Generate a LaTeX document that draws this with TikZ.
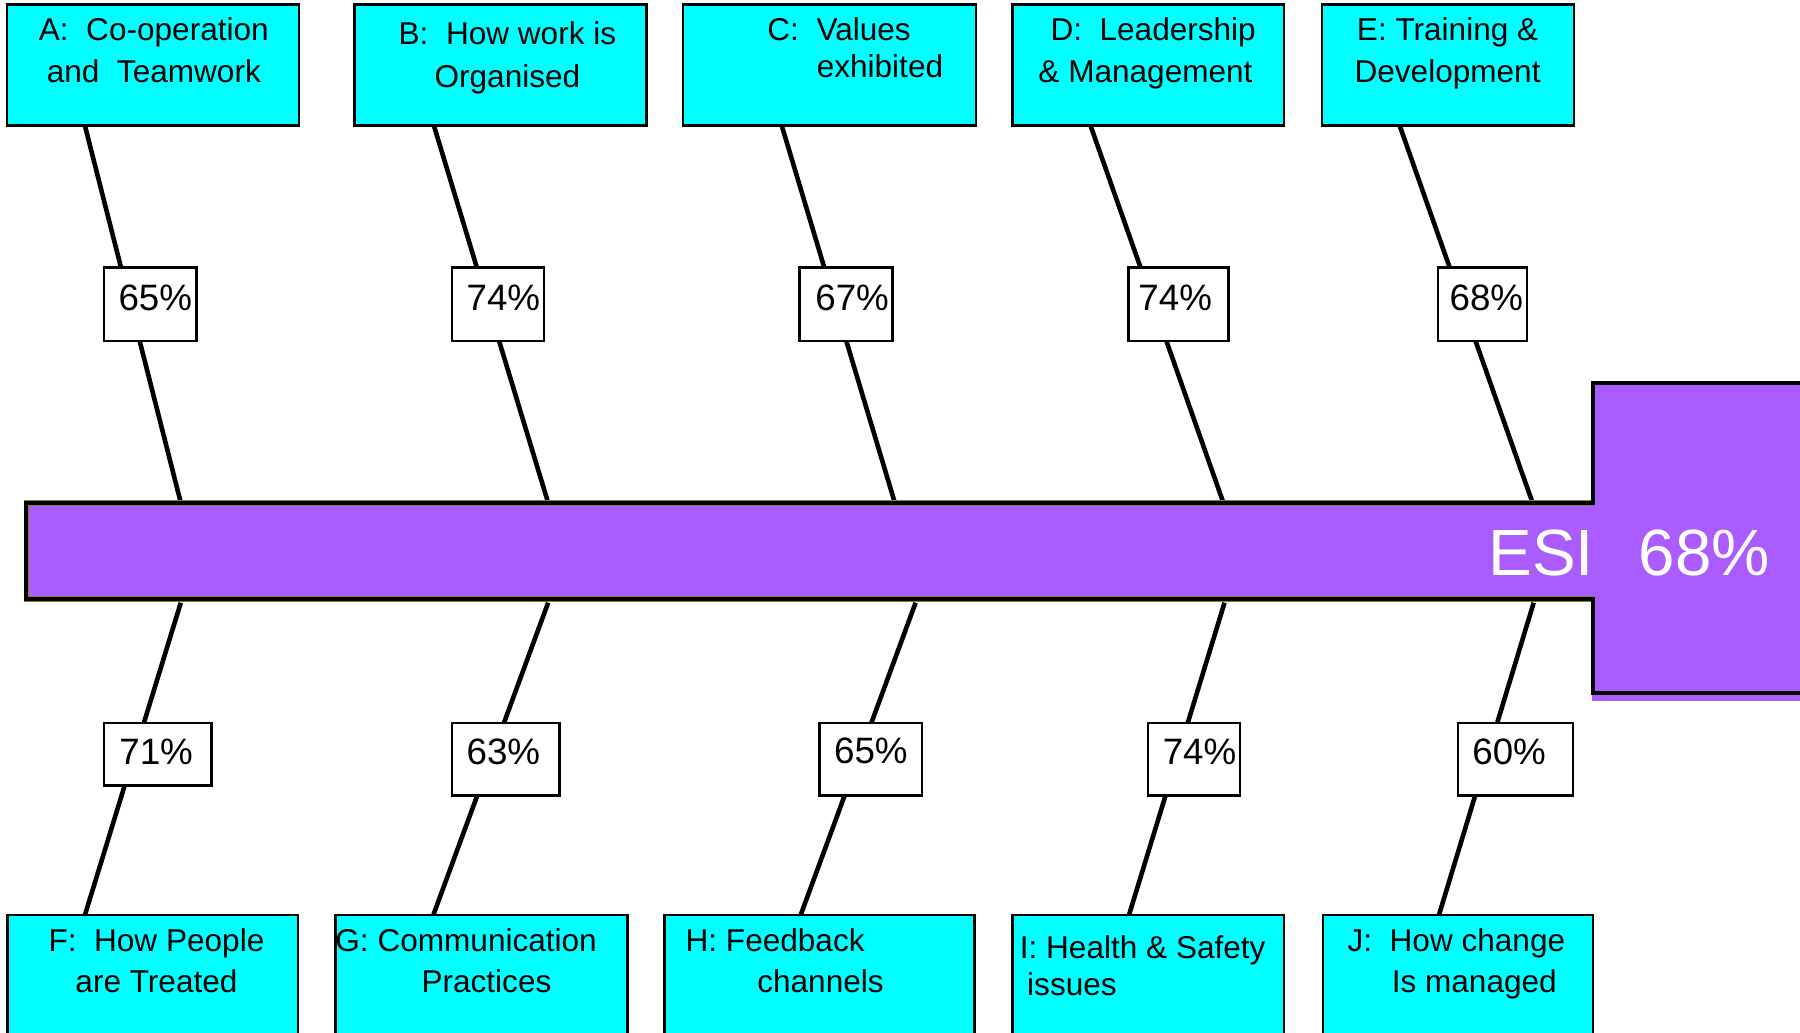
\documentclass[tikz,border=0pt]{standalone}
\usepackage{fontspec}
\setmainfont{Liberation Sans}

\definecolor{causefill}{RGB}{0,255,255}
\definecolor{esi}{RGB}{171,92,255}
\definecolor{fringe}{RGB}{130,130,40}

% strut fixing the top of the first text line
\newcommand\firstln{\rule{0pt}{21pt}}

\tikzset{
  cause/.style={draw=black, fill=causefill, line width=2.2pt, inner sep=0pt, outer sep=0pt, anchor=north west},
  lbl/.style={inner sep=0pt, outer sep=0pt, font=\fontsize{27.5}{36}\selectfont},
  pct/.style={draw=black, fill=white, line width=2.2pt, inner sep=0pt, outer sep=0pt,
              font=\fontsize{32}{36}\selectfont, text height=23pt, text depth=13pt},
  bone/.style={draw=black, line width=4pt},
  outline/.style={draw=black, line width=3.5pt},
  body/.style={fill=esi, inner sep=0pt, outer sep=0pt, anchor=north west},
}

\begin{document}
\begin{tikzpicture}[x=1pt, y=-1pt]
\useasboundingbox (0,0) rectangle (1568,899);
\clip (0,0) rectangle (1568,899);
\fill[white] (0,0) rectangle (1568,899);

% cause boxes, upper row
\node[cause, minimum width=254.5pt, minimum height=105.7pt] (A) at (6,3.8) {};
\node[cause, minimum width=254pt,   minimum height=105.7pt] (B) at (309,3.8) {};
\node[cause, minimum width=255pt,   minimum height=105.7pt] (C) at (595,3.8) {};
\node[cause, minimum width=236.5pt, minimum height=105.7pt] (D) at (882,3.8) {};
\node[cause, minimum width=219.3pt, minimum height=105.7pt] (E) at (1151.7,3.8) {};

% cause boxes, lower row
\node[cause, minimum width=253pt,   minimum height=130pt] (F) at (6.6,797) {};
\node[cause, minimum width=254pt,   minimum height=130pt] (G) at (292.4,797) {};
\node[cause, minimum width=269.7pt, minimum height=130pt] (H) at (579,797) {};
\node[cause, minimum width=236.5pt, minimum height=130pt] (I) at (882,797) {};
\node[cause, minimum width=235.2pt, minimum height=130pt] (J) at (1152.3,797) {};

% box captions
\node[lbl, anchor=north, align=center] (At) at (134,14.5) {\firstln A:~~Co-operation\\and~~Teamwork};
\node[lbl, anchor=north, align=center, font=\fontsize{27.5}{37}\selectfont] (Bt) at (442,18) {\firstln B:~~How work is\\Organised};
\node[lbl, anchor=north west, align=left, font=\fontsize{27.5}{32}\selectfont] (Ct) at (668.5,14.5) {\firstln C:~~Values\\\hspace*{43pt}exhibited};
\node[lbl, anchor=north west, align=left] (Dt) at (904.6,14.5) {\firstln\hspace*{10.5pt}D:~~Leadership\\\&~Management};
\node[lbl, anchor=north, align=center] (Et) at (1261,14.5) {\firstln E:~Training~\&\\Development};
\node[lbl, anchor=north, align=center] (Ft) at (136.3,807.5) {\firstln F:~~How People\\are Treated};
\node[lbl, anchor=north west, align=left] (Gt) at (292.2,807.5) {\firstln G:~Communication\\\hspace*{75pt}Practices};
\node[lbl, anchor=north west, align=left] (Ht) at (597.3,807.5) {\firstln H:~Feedback\\\hspace*{62.4pt}channels};
\node[lbl, anchor=north west, align=left, font=\fontsize{27.5}{32.5}\selectfont] (It) at (888.4,814) {\firstln I:~Health~\&~Safety\\\hspace*{6.4pt}issues};
\node[lbl, anchor=north west, align=left] (Jt) at (1173.9,807.5) {\firstln J:~~How change\\\hspace*{38.5pt}Is managed};

% spine and head
\node[body, minimum width=1365pt, minimum height=83.5pt] (spine) at (23,438) {};
\node[body, minimum width=190pt, minimum height=270pt] (head) at (1388,334) {};
\fill[esi] ([xshift=-1.5pt]head.south west) rectangle ([yshift=-7pt]head.south east);

% bones, upper side
\draw[bone] ([xshift=68pt]A.south west)   -- ([xshift=134.5pt]spine.north west);
\draw[bone] ([xshift=69pt]B.south west)   -- ([xshift=454.5pt]spine.north west);
\draw[bone] ([xshift=86pt]C.south west)   -- ([xshift=756.5pt]spine.north west);
\draw[bone] ([xshift=68pt]D.south west)   -- ([xshift=1042.7pt]spine.north west);
\draw[bone] ([xshift=67.6pt]E.south west) -- ([xshift=1312pt]spine.north west);

% bones, lower side
\draw[bone] ([xshift=134.5pt,yshift=-3.5pt]spine.south west)  -- ([xshift=67.4pt]F.north west);
\draw[bone] ([xshift=454.5pt,yshift=-3.5pt]spine.south west)  -- ([xshift=85.1pt]G.north west);
\draw[bone] ([xshift=774.6pt,yshift=-3.5pt]spine.south west)  -- ([xshift=118.5pt]H.north west);
\draw[bone] ([xshift=1043.7pt,yshift=-3.5pt]spine.south west) -- ([xshift=101.5pt]I.north west);
\draw[bone] ([xshift=1313pt,yshift=-3.5pt]spine.south west)   -- ([xshift=101.2pt]J.north west);

% thin olive edge along the shaft, under the black outline
\draw[fringe, line width=5pt] (spine.north east) -- (spine.north west)
  -- (spine.south west) -- (spine.south east);

% outline of spine and head
\draw[outline] (spine.south west) -- (spine.north west) -- (spine.north east)
  -- (head.north west) -- (head.north east) -- (head.south east)
  -- (head.south west) -- (spine.south east) -- cycle;

% scores on the bones
\node[pct, minimum width=80.4pt, minimum height=63.8pt] (pA) at (130.8,265.1) {\hspace*{9pt}65\%};
\node[pct, minimum width=80.4pt, minimum height=63.8pt] (pB) at (433.8,265.1) {\hspace*{9.4pt}74\%};
\node[pct, minimum width=80.8pt, minimum height=63.8pt] (pC) at (737,265.1) {\hspace*{10.6pt}67\%};
\node[pct, minimum width=86.7pt, minimum height=63.8pt] (pD) at (1026.6,265.1) {74\%\hspace*{5.8pt}};
\node[pct, minimum width=77.4pt, minimum height=63.8pt] (pE) at (1291.3,265.1) {\hspace*{7pt}68\%};

\node[pct, minimum width=93.7pt,  minimum height=54.6pt, text depth=5.2pt] (pF) at (137.5,657.1) {71\%\hspace*{3pt}};
\node[pct, minimum width=93.7pt,  minimum height=63.2pt, text depth=13.8pt] (pG) at (440.5,661.4) {63\%\hspace*{4pt}};
\node[pct, minimum width=89.4pt,  minimum height=63.2pt, text depth=15pt] (pH) at (758.6,661.4) {65\%};
\node[pct, minimum width=79.8pt,  minimum height=63.2pt, text depth=13.8pt] (pI) at (1040.1,661.4) {\hspace*{9.6pt}74\%};
\node[pct, minimum width=100.3pt, minimum height=63.2pt, text depth=13.8pt] (pJ) at (1320.1,661.4) {60\%\hspace*{11pt}};

% overall index
\node[anchor=base west, inner sep=0pt, text=white, font=\fontsize{57}{60}\selectfont] (esi) at (1296.4,501) {ESI\hspace*{39pt}68\%};
\end{tikzpicture}
\end{document}
